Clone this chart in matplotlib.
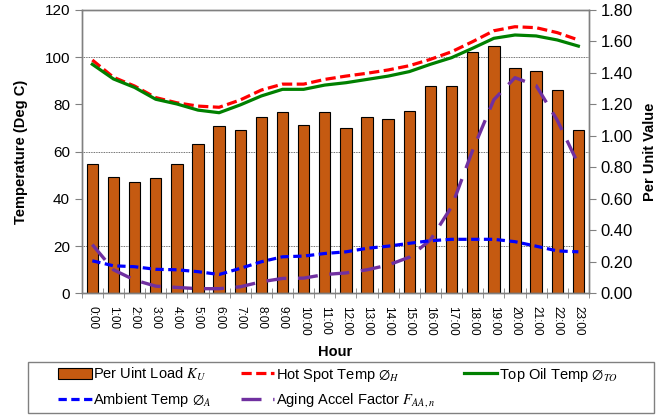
import numpy as np
import matplotlib.pyplot as plt
from matplotlib.patches import Rectangle
from matplotlib.ticker import MultipleLocator, FormatStrFormatter, FixedLocator

# Hourly values
hours = [f"{h}:00" for h in range(24)]
load_pu = [0.82, 0.74, 0.71, 0.73, 0.82, 0.95, 1.06, 1.04, 1.12, 1.15, 1.07, 1.15,
           1.05, 1.12, 1.11, 1.16, 1.32, 1.32, 1.53, 1.57, 1.43, 1.41, 1.29, 1.04]
hot_spot = [98.8, 91.5, 87.8, 82.9, 80.7, 79.3, 78.8, 81.9, 86.1, 88.6, 88.6, 90.6,
            92.0, 93.2, 94.6, 96.4, 99.1, 102.3, 106.6, 111.2, 112.9, 112.5, 110.4, 107.3]
top_oil = [97.0, 90.8, 87.2, 82.2, 80.2, 77.6, 76.5, 79.8, 83.6, 86.4, 86.4, 88.2,
           89.2, 90.6, 92.0, 93.9, 97.0, 99.8, 103.8, 108.0, 109.4, 109.0, 107.3, 104.7]
ambient = [13.8, 11.7, 11.3, 10.2, 10.0, 9.2, 8.0, 10.6, 13.4, 15.5, 15.8, 16.9,
           17.6, 19.1, 20.0, 21.2, 22.3, 22.9, 22.9, 22.9, 21.9, 20.0, 18.0, 17.6]
aging = [0.31, 0.15, 0.085, 0.046, 0.038, 0.03, 0.03, 0.042, 0.074, 0.095, 0.097, 0.12,
         0.13, 0.15, 0.18, 0.23, 0.34, 0.55, 0.91, 1.23, 1.37, 1.32, 1.10, 0.82]

plt.rcParams['font.family'] = 'Liberation Sans'
plt.rcParams['mathtext.fontset'] = 'stix'

fig = plt.figure(figsize=(6.7, 4.15), dpi=100)

# per unit axis (bars) underneath, temperature axis on top
ax_pu = fig.add_axes([0.122, 0.293, 0.757, 0.683])
ax_t = ax_pu.twinx()

x = np.arange(len(hours))

bars = ax_pu.bar(x, load_pu, width=0.54, color='#C55A11', edgecolor='black',
                 linewidth=0.8, zorder=2, label='Per Uint Load $K_U$')
l_age, = ax_pu.plot(x, aging, color='#7030A0', lw=2.4, dashes=(6, 3.5), zorder=3,
                    label='Aging Accel Factor $F_{AA,n}$')

l_hot, = ax_t.plot(x, hot_spot, color='#FF0000', lw=2.3, dashes=(3.2, 1.4),
                   label='Hot Spot Temp $\\emptyset_H$')
l_oil, = ax_t.plot(x, top_oil, color='#008000', lw=2.3,
                   label='Top Oil Temp $\\emptyset_{TO}$')
l_amb, = ax_t.plot(x, ambient, color='#0000FF', lw=2.3, dashes=(2.6, 1.4),
                   label='Ambient Temp $\\emptyset_A$')

# per unit axis on the right
ax_pu.set_ylim(0, 1.8)
ax_pu.yaxis.set_major_locator(MultipleLocator(0.2))
ax_pu.yaxis.set_major_formatter(FormatStrFormatter('%.2f'))
ax_pu.yaxis.tick_right()
ax_pu.yaxis.set_label_position('right')
ax_pu.set_ylabel('Per Unit Value', fontsize=10.5, fontweight='bold', labelpad=7)
ax_pu.tick_params(axis='y', labelsize=12, direction='out', length=5, color='#808080')

# horizontal grid follows the temperature ticks (every 20 deg = 0.3 pu)
ax_pu.yaxis.set_minor_locator(MultipleLocator(0.3))
ax_pu.tick_params(axis='y', which='minor', length=0)
ax_pu.grid(axis='y', which='minor', color='#404040', lw=0.6, linestyle=(0, (1, 1)), zorder=0)
ax_pu.set_axisbelow(True)

# temperature axis on the left
ax_t.set_ylim(0, 120)
ax_t.yaxis.set_major_locator(MultipleLocator(20))
ax_t.yaxis.tick_left()
ax_t.yaxis.set_label_position('left')
ax_t.set_ylabel('Temperature (Deg C)', fontsize=10.5, fontweight='bold', labelpad=12)
ax_t.tick_params(axis='y', labelsize=11, direction='out', length=5, color='#808080')

# hour axis
ax_pu.set_xlim(-0.5, 23.5)
ax_pu.set_xticks(x)
ax_pu.set_xticklabels(hours, rotation=-90, fontsize=8.5)
ax_pu.xaxis.set_minor_locator(FixedLocator(np.arange(-0.5, 24, 1)))
ax_pu.tick_params(axis='x', which='major', length=0, pad=9)
ax_pu.tick_params(axis='x', which='minor', direction='inout', length=7, color='#808080')
ax_pu.set_xlabel('Hour', fontsize=10.5, fontweight='bold', labelpad=7)

for a in (ax_pu, ax_t):
    for s in a.spines.values():
        s.set_color('#808080')
        s.set_linewidth(1.0)

# legend box below the plot
fig.patches.append(Rectangle((28 / 670, 2 / 415), 626 / 670, 51 / 415,
                             transform=fig.transFigure, fill=False,
                             edgecolor='#808080', lw=1.0))
handles = [bars, l_amb, l_hot, l_age, l_oil]
fig.legend(handles, [h.get_label() for h in handles], loc='center',
           bbox_to_anchor=(338 / 670, 1 - 387.5 / 415), ncol=3, frameon=False,
           fontsize=10.5, handlelength=2.3, handletextpad=0.1, labelspacing=0.55,
           columnspacing=2.0, borderpad=0)

fig.savefig('out.png', dpi=100)
